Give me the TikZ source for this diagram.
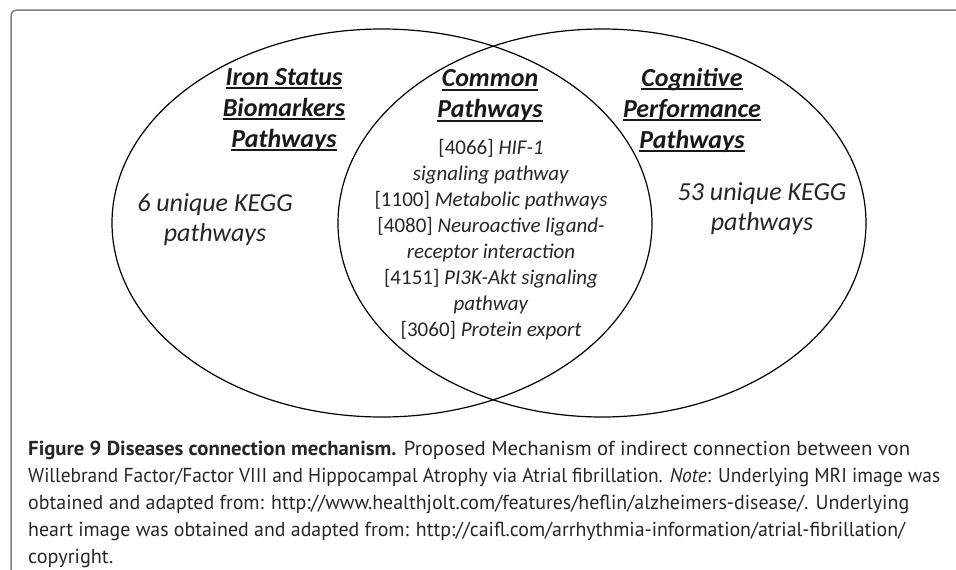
\documentclass[tikz,border=0pt]{standalone}
\usepackage{fontspec}
\setmainfont{Carlito}
\newfontfamily\capfont{PT Sans}
\usepackage{graphicx}
\usepackage{tikz}
\usetikzlibrary{positioning,shapes.geometric}
% thick underline for the headings
\newcommand{\ulin}[1]{\setbox0\hbox{#1}\rlap{\rule[-4pt]{\wd0}{2.4pt}}\box0}
% caption line stretched to the width of the printed one
\newcommand{\capline}[2]{\resizebox{#1pt}{\height}{#2}}

\begin{document}
\begin{tikzpicture}
                    [x=1pt, y=-1pt,
                    venn/.style={ellipse, draw=black, line width=1.2pt,
                        inner sep=0pt},
                    head/.style={align=center, text=black!90,
                        font=\fontsize{26}{31}\selectfont\bfseries\itshape},
                    txt/.style={align=center, text=black!85,
                        font=\fontsize{26}{30}\selectfont\itshape},
                    list/.style={align=center, text=black!85,
                        font=\fontsize{21}{26}\selectfont},
                    captxt/.style={align=left, anchor=north west, inner sep=0pt,
                        text=black!85,
                        font=\capfont\fontsize{20.2}{27}\selectfont}]

                    \useasboundingbox (0,0) rectangle (956,570);
                    \clip (0,0) rectangle (956,570);

                    % frame of the figure
                    \draw[black!50, line width=1.5pt, rounded corners=6pt]
                        (11,10) rectangle (1000,620);

                    \node[venn, minimum width=540pt, minimum height=388pt]
                        (iron) at (382,223) {};
                    \node[venn, minimum width=528pt, minimum height=388pt]
                        (cog) at (602,223) {};

                    \node[head] (ironhd) at (284,110)
                        {\ulin{Iron Status}\\ \ulin{Biomarkers}\\ \ulin{Pathways}};
                    \node[head] (comhd) at (490,96)
                        {\ulin{Common}\\ \ulin{Pathways}};
                    \node[head] (coghd) at (692,110)
                        {\ulin{Cognitive}\\ \ulin{Performance}\\ \ulin{Pathways}};

                    \node[txt] (ironn) at (215,220)
                        {6 unique KEGG\\ pathways};
                    \node[txt] (cogn) at (762,209)
                        {53 unique KEGG\\ pathways};

                    \node[list] (comlist) at (491,240)
                        {[4066] \textit{HIF-1}\\
                         \textit{signaling pathway}\\
                         {}[1100] \textit{Metabolic pathways}\\
                         {}[4080] \textit{Neuroactive ligand-}\\
                         \textit{receptor interaction}\\
                         {}[4151] \textit{PI3K-Akt signaling}\\
                         \textit{pathway}\\
                         {}[3060] \textit{Protein export}};

                    \node[captxt] (caption) at (28,441)
                        {\capline{882}{\textbf{Figure 9 Diseases connection mechanism.} Proposed Mechanism of indirect connection between von}\\
                         \capline{912}{Willebrand Factor/Factor VIII and Hippocampal Atrophy via Atrial fibrillation. \textit{Note}: Underlying MRI image was}\\
                         \capline{881}{obtained and adapted from: http://www.healthjolt.com/features/heflin/alzheimers-disease/. Underlying}\\
                         \capline{877}{heart image was obtained and adapted from: http://caifl.com/arrhythmia-information/atrial-fibrillation/}\\
                         copyright.};
                \end{tikzpicture}
\end{document}
